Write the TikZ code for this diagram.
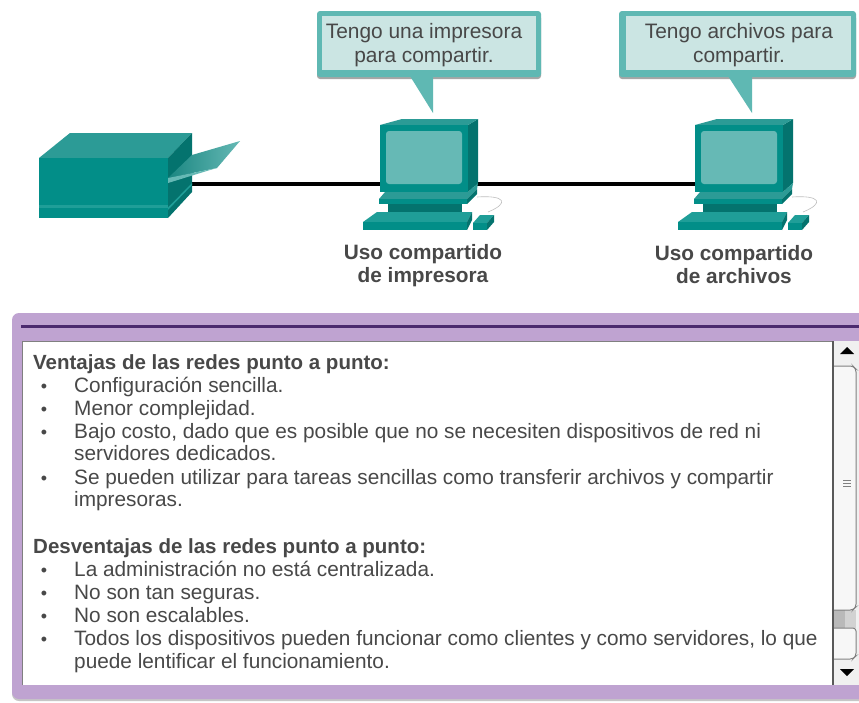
\documentclass[tikz,border=0pt]{standalone}
\usepackage{fontspec}
\setmainfont{Liberation Sans}
\definecolor{tfront}{HTML}{028E88}
\definecolor{ttop}{HTML}{2C9B96}
\definecolor{tside}{HTML}{04736E}
\definecolor{tscreen}{HTML}{66B9B5}
\definecolor{tlight}{HTML}{1F9E98}
\definecolor{bborder}{HTML}{5FB8B3}
\definecolor{bfill}{HTML}{CBE5E3}
\definecolor{pborder}{HTML}{BFA3D1}
\definecolor{pdark}{HTML}{4B2A6E}
\definecolor{txt}{HTML}{484848}
\tikzset{
  x=1pt,y=-1pt,
  bodytext/.style={anchor=base west,inner sep=0pt,font=\fontsize{20.8}{22}\selectfont,text=txt},
  headtext/.style={bodytext,font=\bfseries\fontsize{20.5}{22}\selectfont},
  bullet/.style={anchor=base,inner sep=0pt,font=\fontsize{18}{20}\selectfont,text=txt},
  caption/.style={align=center,inner sep=0pt,font=\bfseries\fontsize{20.8}{23}\selectfont,text=txt},
  bubbletext/.style={align=center,inner sep=0pt,font=\fontsize{20.9}{23.5}\selectfont,text=txt},
  bubbleout/.style={fill=bborder,rounded corners=3pt},
  bubblein/.style={fill=bfill},
  pics/computer/.style={code={
    % monitor
    \fill[tside] (88,6)--(98,0)--(98,64)--(88,73)--cycle;
    \fill[ttop] (0,6)--(22,0)--(98,0)--(88,6)--cycle;
    \fill[tfront] (0,6) rectangle (88,73);
    \fill[tscreen,rounded corners=3pt] (6,12) rectangle (82,65);
    % plate under the monitor
    \fill[ttop] (5,73)--(88,73)--(98,64)--(97,70)--(87,80)--(-1,80)--cycle;
    \fill[tfront] (-1,80) rectangle (87,85);
    \fill[tside] (87,85)--(87,80)--(97,70)--(97,75)--cycle;
    % neck
    \fill[tside] (8,85) rectangle (82,93);
    % cord
    \draw[gray!50,line width=.6pt] (97,78) .. controls (125,76) and (130,84) .. (108,93);
    % keyboard
    \fill[tlight] (-3,93) -- (92,93) -- (87,103) -- (-17,103) -- cycle;
    \fill[tfront] (-17,103) -- (87,103) -- (87,111) -- (-17,111) -- cycle;
    \fill[tside] (87,111)--(87,103)--(92,93)--(92,101)--cycle;
    % mouse
    \fill[tlight] (100,96)--(114,96)--(107,104)--(93,104)--cycle;
    \fill[tfront] (93,104) rectangle (107,111);
    \fill[tside] (107,111)--(107,104)--(114,96)--(114,103)--cycle;
  }}
}
\begin{document}
\begin{tikzpicture}
\useasboundingbox (0,0) rectangle (859,702);
\fill[white] (0,0) rectangle (859,702);

% anchors of the cable
\coordinate (prnport) at (190,184);
\coordinate (pca) at (424,184);
\coordinate (pcb) at (739,184);
\draw[black,line width=3.5pt] (prnport) -- (pca) -- (pcb);

% printer
\fill[ttop] (39,158)--(70,133)--(192,133)--(168,158)--cycle;
\fill[tside] (168,158)--(192,133)--(192,192)--(168,218)--cycle;
\fill[tfront] (39,158) rectangle (168,218);
\fill[tlight] (39,205) rectangle (168,207.5);
\fill[tlight] (168,207.5)--(192,183)--(192,185)--(168,210)--cycle;
\shade[left color=tlight!85!black,right color=tscreen] (168,178)--(192,155)--(240,141)--(217,168)--cycle;
\fill[tscreen] (168,178)--(217,168)--(210,170)--(168,183)--cycle;

% computers
\pic at (380,119) {computer};
\pic at (695,119) {computer};

% speech bubbles
\fill[gray!70,rounded corners=3pt] (317,15) rectangle (541,79);
\fill[bubbleout] (317,11) rectangle (541,77);
\fill[bborder] (410,76)--(433,76)--(433,113)--cycle;
\fill[bubblein] (322,16) rectangle (536,70);
\node[bubbletext] (ta) at (424,45) {Tengo una impresora\\para compartir.};

\fill[gray!70,rounded corners=3pt] (619,15) rectangle (856,79);
\fill[bubbleout] (619,11) rectangle (856,77);
\fill[bborder] (728,76)--(752,76)--(752,113)--cycle;
\fill[bubblein] (626,16) rectangle (851,70);
\node[bubbletext] (tb) at (739,45) {Tengo archivos para\\compartir.};

% captions
\node[caption] (ca) at (423,266) {Uso compartido\\de impresora};
\node[caption] (cb) at (734,265) {Uso compartido\\de archivos};

% panel
\fill[gray!45,rounded corners=7pt] (12,316) rectangle (870,701);
\fill[pborder,rounded corners=7pt] (12,313) rectangle (870,699);
\fill[pdark] (21,324.5) rectangle (859,327.5);
\fill[white] (22,341) rectangle (859,685);
\draw[gray,line width=1pt] (22,685) -- (22,341) -- (859,341);

% scrollbar
\fill[gray!12] (833,341) rectangle (859,685);
\fill[gray!6] (833,366) rectangle (856,660);
\fill[gray!55] (833,610) rectangle (845,628);
\fill[gray!35] (845,610) rectangle (856,628);
\draw[gray,line width=1pt,rounded corners=3pt] (833,366) -- (853,366) -- (856,369) -- (856,607) -- (853,610) -- (833,610);
\draw[gray,line width=1pt,rounded corners=3pt] (833,628) -- (856,628) -- (856,656) -- (853,659) -- (833,659);
\draw[gray!70!black,line width=1.3pt] (833,341) -- (833,685);
\fill[black] (840,354) -- (847,347) -- (854,354) -- cycle;
\fill[black] (840,669) -- (854,669) -- (847,676) -- cycle;
\draw[gray,line width=.7pt] (843,480) -- (851,480) (843,483) -- (851,483) (843,486) -- (851,486);

% text
\node[headtext] (h1) at (33,369) {Ventajas de las redes punto a punto:};
\node[bullet] (b1) at (44,392) {•};
\node[bodytext] (l1) at (74,392) {Configuración sencilla.};
\node[bullet] (b2) at (44,415) {•};
\node[bodytext] (l2) at (74,415) {Menor complejidad.};
\node[bullet] (b3) at (44,438) {•};
\node[bodytext] (l3) at (74,438) {Bajo costo, dado que es posible que no se necesiten dispositivos de red ni};
\node[bodytext] (l3b) at (74,460) {servidores dedicados.};
\node[bullet] (b4) at (44,484) {•};
\node[bodytext] (l4) at (74,484) {Se pueden utilizar para tareas sencillas como transferir archivos y compartir};
\node[bodytext] (l4b) at (74,506) {impresoras.};
\node[headtext] (h2) at (33,553) {Desventajas de las redes punto a punto:};
\node[bullet] (b5) at (44,576) {•};
\node[bodytext] (l5) at (74,576) {La administración no está centralizada.};
\node[bullet] (b6) at (44,599) {•};
\node[bodytext] (l6) at (74,599) {No son tan seguras.};
\node[bullet] (b7) at (44,622) {•};
\node[bodytext] (l7) at (74,622) {No son escalables.};
\node[bullet] (b8) at (44,645) {•};
\node[bodytext] (l8) at (74,645) {Todos los dispositivos pueden funcionar como clientes y como servidores, lo que};
\node[bodytext] (l8b) at (74,668) {puede lentificar el funcionamiento.};
\end{tikzpicture}
\end{document}
